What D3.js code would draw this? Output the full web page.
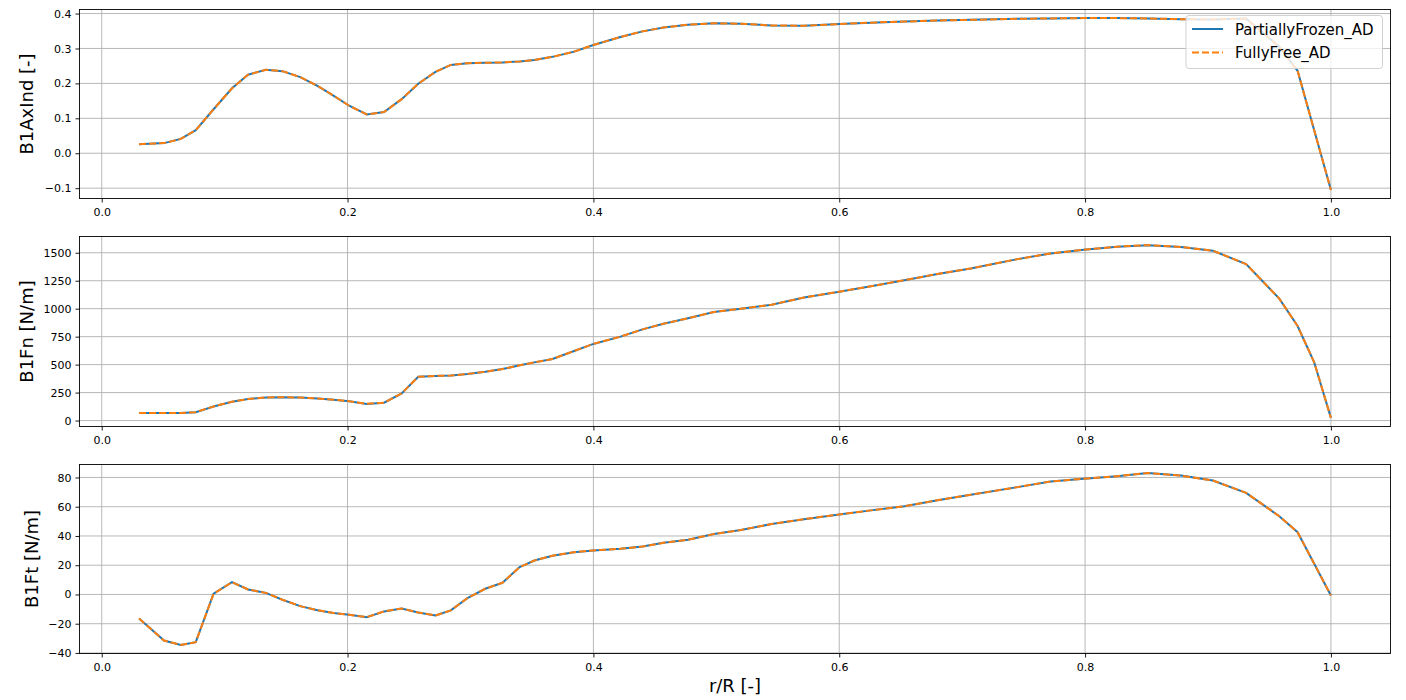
<!DOCTYPE html>
<html>
<head>
<meta charset="utf-8">
<script src="https://cdn.jsdelivr.net/npm/d3@7"></script>
<style>
  body { margin: 0; background: #fff; }
  svg { font-family: "DejaVu Sans", sans-serif; }
</style>
</head>
<body>
<script>
// spanwise stations r/R
const rOverR = [0.0304, 0.0507, 0.0643, 0.0765, 0.0910, 0.1060, 0.1190, 0.1335, 0.1470, 0.1615,
  0.1755, 0.1885, 0.2013, 0.2156, 0.2297, 0.2440, 0.2575, 0.2715, 0.2840, 0.2975,
  0.3120, 0.3260, 0.3400, 0.3520, 0.3667, 0.3843, 0.4000, 0.4220, 0.4400, 0.4570,
  0.4770, 0.4980, 0.5200, 0.5450, 0.5714, 0.6000, 0.6257, 0.6530, 0.6800, 0.7070,
  0.7450, 0.7720, 0.7990, 0.8260, 0.8510, 0.8780, 0.9040, 0.9310, 0.9580, 0.9729,
  0.9864, 1.0000]

// PartiallyFrozen_AD
const frozenAxInd = [0.026, 0.029, 0.041, 0.066, 0.126, 0.186, 0.225, 0.239, 0.235, 0.218,
  0.193, 0.165, 0.136, 0.111, 0.118, 0.155, 0.199, 0.233, 0.253, 0.258,
  0.259, 0.260, 0.263, 0.267, 0.276, 0.291, 0.310, 0.333, 0.349, 0.360,
  0.368, 0.372, 0.371, 0.366, 0.365, 0.370, 0.374, 0.377, 0.380, 0.382,
  0.385, 0.386, 0.387, 0.387, 0.386, 0.384, 0.383, 0.386, 0.305, 0.236,
  0.066, -0.105]
const frozenFn = [68, 68, 68, 75, 126, 168, 192, 207, 208, 205,
  197, 186, 173, 149, 160, 242, 392, 399, 402, 416,
  436, 460, 494, 520, 550, 622, 685, 750, 815, 865,
  915, 970, 1000, 1036, 1100, 1152, 1200, 1255, 1310, 1360,
  1443, 1494, 1527, 1554, 1568, 1552, 1518, 1399, 1090, 845,
  521, 24]
const frozenFt = [-16.5, -31.5, -34.5, -32.6, 0.5, 8.4, 3.4, 1.1, -3.6, -8,
  -10.8, -12.6, -13.9, -15.5, -11.6, -9.6, -12.3, -14.4, -10.9, -2.5,
  3.9, 8, 18.7, 23.2, 26.5, 28.9, 30.1, 31.2, 32.8, 35.3,
  37.4, 41.3, 44.1, 48.2, 51.5, 54.7, 57.5, 60.3, 64.5, 68.2,
  73.4, 77.3, 79.1, 80.9, 83, 81.3, 77.9, 69.5, 53.5, 42.6,
  21, -0.7]

// FullyFree_AD lies right on top of the frozen run
const freeAxInd = frozenAxInd.slice()
const freeFn = frozenFn.slice()
const freeFt = frozenFt.slice()

// tick labels
const xTicks = [0, 0.2, 0.4, 0.6, 0.8, 1.0]
const axIndTicks = [-0.1, 0, 0.1, 0.2, 0.3, 0.4]
const fnTicks = [0, 250, 500, 750, 1000, 1250, 1500]
const ftTicks = [-40, -20, 0, 20, 40, 60, 80]

const seriesNames = ["PartiallyFrozen_AD", "FullyFree_AD"]
const blue = "#1f77b4"
const orange = "#ff7f0e"
const lw = 2
const dash = "7,3"

const panels = [
  { label: "B1AxInd [-]", frozen: frozenAxInd, free: freeAxInd, ticks: axIndTicks, fmt: d3.format(".1f"), top: 9.5, bottom: 198.5, labelX: 33 },
  { label: "B1Fn [N/m]", frozen: frozenFn, free: freeFn, ticks: fnTicks, fmt: d3.format("d"), top: 236.5, bottom: 426.5, labelX: 33 },
  { label: "B1Ft [N/m]", frozen: frozenFt, free: freeFt, ticks: ftTicks, fmt: d3.format("d"), top: 464.5, bottom: 653.5, labelX: 37.5 }
]

const left = 79.5
const right = 1390.5

// matplotlib style 5% margins
function padded(vals) {
  const [lo, hi] = d3.extent(vals)
  const r = hi - lo
  return [lo - 0.05 * r, hi + 0.05 * r]
}

const svg = d3.select("body").append("svg")
  .attr("width", 1406)
  .attr("height", 700)

const xScale = d3.scaleLinear()
  .domain(padded(rOverR))
  .range([left, right])

panels.forEach((p, i) => {
  const yScale = d3.scaleLinear()
    .domain(padded(p.frozen.concat(p.free)))
    .range([p.bottom, p.top])

  const g = svg.append("g")

  // grid
  g.append("g").selectAll("line.gx")
    .data(xTicks)
    .join("line")
    .attr("x1", d => xScale(d)).attr("x2", d => xScale(d))
    .attr("y1", p.top).attr("y2", p.bottom)
    .attr("stroke", "#b0b0b0").attr("stroke-width", 0.9)

  g.append("g").selectAll("line.gy")
    .data(p.ticks)
    .join("line")
    .attr("x1", left).attr("x2", right)
    .attr("y1", d => yScale(d)).attr("y2", d => yScale(d))
    .attr("stroke", "#b0b0b0").attr("stroke-width", 0.9)

  // lines
  const line = d3.line()
    .x((d, j) => xScale(rOverR[j]))
    .y(d => yScale(d))

  g.append("path")
    .datum(p.frozen)
    .attr("d", line)
    .attr("fill", "none")
    .attr("stroke", blue)
    .attr("stroke-width", lw)

  g.append("path")
    .datum(p.free)
    .attr("d", line)
    .attr("fill", "none")
    .attr("stroke", orange)
    .attr("stroke-width", lw)
    .attr("stroke-dasharray", dash)

  // axes
  const axisLeft = d3.axisLeft(yScale)
    .tickValues(p.ticks)
    .tickFormat(p.fmt)
    .tickSize(4)
    .tickPadding(4)

  const axisBottom = d3.axisBottom(xScale)
    .tickValues(xTicks)
    .tickFormat(d3.format(".1f"))
    .tickSize(4)
    .tickPadding(6)

  const ay = g.append("g")
    .attr("transform", "translate(" + left + ",0)")
    .call(axisLeft)
  const ax = g.append("g")
    .attr("transform", "translate(0," + p.bottom + ")")
    .call(axisBottom)

  ;[ay, ax].forEach(a => {
    a.select(".domain").remove()
    a.selectAll("line").attr("stroke", "#000").attr("stroke-width", 0.9)
    a.selectAll("text")
      .attr("font-family", "DejaVu Sans")
      .attr("font-size", "11px")
      .attr("fill", "#000")
  })

  // frame
  g.append("rect")
    .attr("x", left).attr("y", p.top)
    .attr("width", right - left).attr("height", p.bottom - p.top)
    .attr("fill", "none")
    .attr("stroke", "#000")
    .attr("stroke-width", 0.9)

  // y label
  g.append("text")
    .attr("transform", "translate(" + p.labelX + "," + (p.top + p.bottom) / 2 + ") rotate(-90)")
    .attr("text-anchor", "middle")
    .attr("font-size", "18px")
    .text(p.label)

  if (i === 0) {
    // legend
    const lg = g.append("g").attr("transform", "translate(1186,15.5)")
    lg.append("rect")
      .attr("width", 196.5).attr("height", 53)
      .attr("rx", 3)
      .attr("fill", "#fff").attr("fill-opacity", 0.8)
      .attr("stroke", "#cccccc").attr("stroke-width", 0.9)

    lg.selectAll("line.key")
      .data(seriesNames)
      .join("line")
      .attr("x1", 6).attr("x2", 37)
      .attr("y1", (d, j) => 13.5 + j * 23.5)
      .attr("y2", (d, j) => 13.5 + j * 23.5)
      .attr("stroke", (d, j) => j === 0 ? blue : orange)
      .attr("stroke-width", lw)
      .attr("stroke-dasharray", (d, j) => j === 0 ? null : dash)

    lg.selectAll("text")
      .data(seriesNames)
      .join("text")
      .attr("x", 49)
      .attr("y", (d, j) => 19 + j * 23.5)
      .attr("font-size", "15px")
      .text(d => d)
  }
})

// x label
svg.append("text")
  .attr("x", (left + right) / 2)
  .attr("y", 692)
  .attr("text-anchor", "middle")
  .attr("font-size", "18px")
  .text("r/R [-]")
</script>
</body>
</html>
